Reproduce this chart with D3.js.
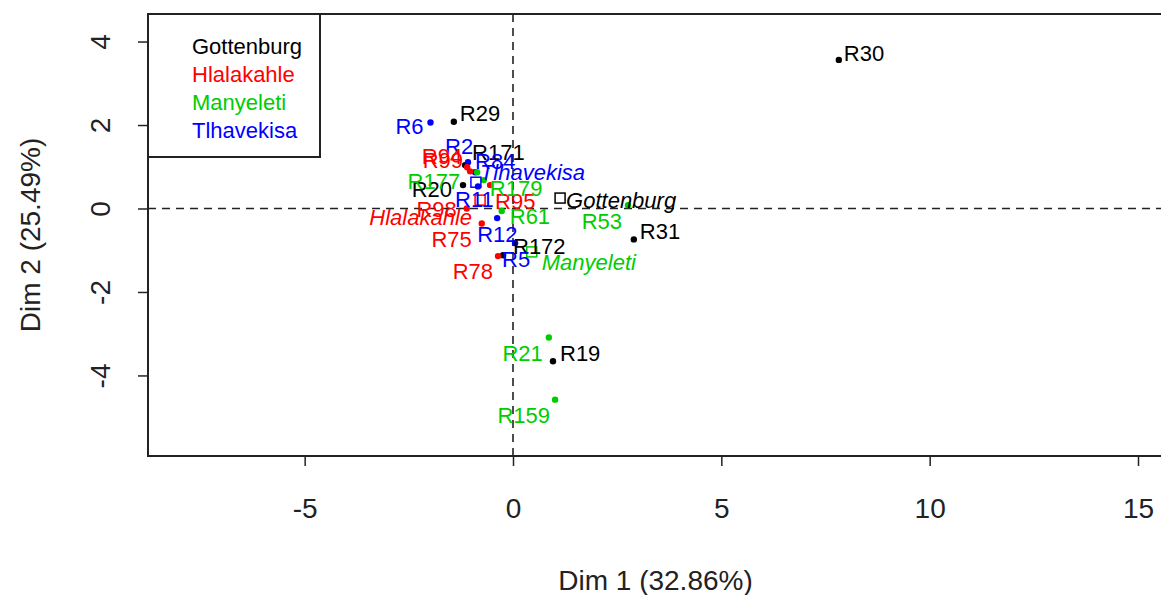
<!DOCTYPE html>
<html>
<head>
<meta charset="utf-8">
<script src="https://cdn.jsdelivr.net/npm/d3@7"></script>
<style>
  html, body { margin: 0; padding: 0; background: #fff; }
  svg { display: block; font-family: "Liberation Sans", Arial, sans-serif; }
</style>
</head>
<body>
<div id="chart"></div>
<script>
// groups (habillage) and their centroids
const groups = ["Gottenburg", "Hlalakahle", "Manyeleti", "Tlhavekisa"];
const groupDim1 = [1.13, -0.79, 0.45, -0.89];
const groupDim2 = [0.25, 0.20, -1.04, 0.63];

// individuals
const indNames = ["R29", "R171", "R20", "R172", "R31", "R30", "R19",
  "R6", "R2", "R84", "R11", "R12", "R5",
  "R94", "R99", "R95", "R98", "R75", "R78",
  "R177", "R179", "R61", "R53", "R21", "R159"];
const indGroup = ["Gottenburg", "Gottenburg", "Gottenburg", "Gottenburg", "Gottenburg", "Gottenburg", "Gottenburg",
  "Tlhavekisa", "Tlhavekisa", "Tlhavekisa", "Tlhavekisa", "Tlhavekisa", "Tlhavekisa",
  "Hlalakahle", "Hlalakahle", "Hlalakahle", "Hlalakahle", "Hlalakahle", "Hlalakahle",
  "Manyeleti", "Manyeleti", "Manyeleti", "Manyeleti", "Manyeleti", "Manyeleti"];
const indDim1 = [-1.42, -1.15, -1.20, -0.24, 2.90, 7.82, 0.96,
  -1.98, -1.08, -0.91, -0.84, -0.38, 0.05,
  -1.10, -1.03, -0.55, -1.11, -0.75, -0.36,
  -0.86, -0.70, -0.27, 2.76, 0.86, 1.01];
const indDim2 = [2.08, 1.04, 0.56, -1.12, -0.74, 3.56, -3.66,
  2.06, 1.11, 0.87, 0.53, -0.23, -0.83,
  0.99, 0.89, 0.56, 0.00, -0.36, -1.14,
  0.87, 0.68, -0.06, 0.08, -3.09, -4.58];

const xTicks = [-5, 0, 5, 10, 15];
const yTicks = [-4, -2, 0, 2, 4];
const xTitle = "Dim 1 (32.86%)";
const yTitle = "Dim 2 (25.49%)";

// colours per group (R palette)
const palette = { Gottenburg: "#000000", Hlalakahle: "#FF0000", Manyeleti: "#00CD00", Tlhavekisa: "#0000FF" };

// label placement (px offset from the point, like autoLab did)
const labelPos = {
  R29: [6, -1, "start"], R171: [7, -5, "start"], R20: [-11, 12, "end"], R172: [10, -1, "start"],
  R31: [6, 0, "start"], R30: [5, 1, "start"], R19: [7, 0, "start"],
  R6: [-7, 11, "end"], R2: [-23, -8, "start"], R84: [0, -3, "start"], R11: [-23, 21, "start"],
  R12: [-20, 24, "start"], R5: [-13, 24, "start"],
  R94: [-5, -3, "end"], R99: [-7, -3, "end"], R95: [5, 24, "start"], R98: [-10, 9, "end"],
  R75: [-10, 23, "end"], R78: [-5, 23, "end"],
  R177: [-17, 17, "end"], R179: [6, 16, "start"], R61: [8, 13, "start"], R53: [-6, 24, "end"],
  R21: [-6, 24, "end"], R159: [-5, 23, "end"],
  Gottenburg: [6, 10, "start"], Hlalakahle: [-8, 25, "end"], Manyeleti: [10, 18, "start"], Tlhavekisa: [4, -2, "start"]
};

const W = 1161, H = 595;
const m = { left: 148, top: 14, right: 1163, bottom: 456 };

const svg = d3.select("#chart").append("svg")
  .attr("width", W).attr("height", H);

const x = d3.scaleLinear().domain([-8.76, 15.6]).range([m.left, m.right]);
const y = d3.scaleLinear().domain([-5.93, 4.66]).range([m.bottom, m.top]);

// dashed zero lines
svg.append("line")
  .attr("x1", m.left).attr("x2", m.right)
  .attr("y1", y(0)).attr("y2", y(0))
  .attr("stroke", "#222").attr("stroke-width", 1.6).attr("stroke-dasharray", "8,6");
svg.append("line")
  .attr("x1", x(0)).attr("x2", x(0))
  .attr("y1", m.top).attr("y2", m.bottom)
  .attr("stroke", "#222").attr("stroke-width", 1.6).attr("stroke-dasharray", "8,6");

// axes
const xAxis = svg.append("g")
  .attr("transform", `translate(0,${m.bottom})`)
  .call(d3.axisBottom(x).tickValues(xTicks).tickSize(10).tickPadding(32).tickFormat(d3.format("d")));
const yAxis = svg.append("g")
  .attr("transform", `translate(${m.left},0)`)
  .call(d3.axisLeft(y).tickValues(yTicks).tickSize(10).tickFormat(d3.format("d")));

[xAxis, yAxis].forEach(a => {
  a.select(".domain").remove();
  a.selectAll(".tick line").attr("stroke", "#222").attr("stroke-width", 1.5);
  a.selectAll("text").attr("fill", "#222").style("font-size", "28px").style("font-family", "\"Liberation Sans\", Arial, sans-serif");
});
xAxis.selectAll("text").text(d => d < 0 ? "-" + Math.abs(d) : d);
yAxis.selectAll("text")
  .text(d => d < 0 ? "-" + Math.abs(d) : d)
  .attr("text-anchor", "middle")
  .attr("dy", null)
  .attr("transform", "translate(-48,0) rotate(-90)")
  .attr("x", 0).attr("y", 10);

// plot border
svg.append("rect")
  .attr("x", m.left).attr("y", m.top)
  .attr("width", m.right - m.left).attr("height", m.bottom - m.top)
  .attr("fill", "none").attr("stroke", "#222").attr("stroke-width", 2);

// axis titles
svg.append("text")
  .attr("x", (m.left + m.right) / 2).attr("y", 590)
  .attr("text-anchor", "middle").attr("fill", "#222")
  .style("font-size", "28px").text(xTitle);
svg.append("text")
  .attr("transform", `translate(40,${(m.top + m.bottom) / 2}) rotate(-90)`)
  .attr("text-anchor", "middle").attr("fill", "#222")
  .style("font-size", "28px").text(yTitle);

// individuals
const inds = indNames.map((n, i) => ({ name: n, group: indGroup[i], x: indDim1[i], y: indDim2[i] }));
const cents = groups.map((g, i) => ({ name: g, group: g, x: groupDim1[i], y: groupDim2[i] }));

svg.append("g").selectAll("circle")
  .data(inds).join("circle")
  .attr("cx", d => x(d.x)).attr("cy", d => y(d.y))
  .attr("r", 3.2)
  .attr("fill", d => palette[d.group]);

svg.append("g").selectAll("rect")
  .data(cents).join("rect")
  .attr("x", d => x(d.x) - 5).attr("y", d => y(d.y) - 5)
  .attr("width", 10).attr("height", 10)
  .attr("fill", "none")
  .attr("stroke", d => palette[d.group]).attr("stroke-width", 1.5);

svg.append("g").selectAll("text")
  .data(inds).join("text")
  .attr("x", d => x(d.x) + (labelPos[d.name] || [5, 0])[0])
  .attr("y", d => y(d.y) + (labelPos[d.name] || [5, 0])[1])
  .attr("text-anchor", d => (labelPos[d.name] || [0, 0, "start"])[2])
  .attr("fill", d => palette[d.group])
  .style("font-size", "22px")
  .text(d => d.name);

svg.append("g").selectAll("text")
  .data(cents).join("text")
  .attr("x", d => x(d.x) + labelPos[d.name][0])
  .attr("y", d => y(d.y) + labelPos[d.name][1])
  .attr("text-anchor", d => labelPos[d.name][2])
  .attr("fill", d => palette[d.group])
  .style("font-size", "22px").style("font-style", "italic")
  .text(d => d.name);

// legend
const leg = svg.append("g");
leg.append("rect")
  .attr("x", m.left).attr("y", m.top)
  .attr("width", 320 - m.left).attr("height", 157 - m.top)
  .attr("fill", "#fff").attr("stroke", "#222").attr("stroke-width", 2);
leg.selectAll("text")
  .data(groups).join("text")
  .attr("x", 192).attr("y", (d, i) => 54 + i * 28)
  .attr("fill", d => palette[d])
  .style("font-size", "22px")
  .text(d => d);
</script>
</body>
</html>
